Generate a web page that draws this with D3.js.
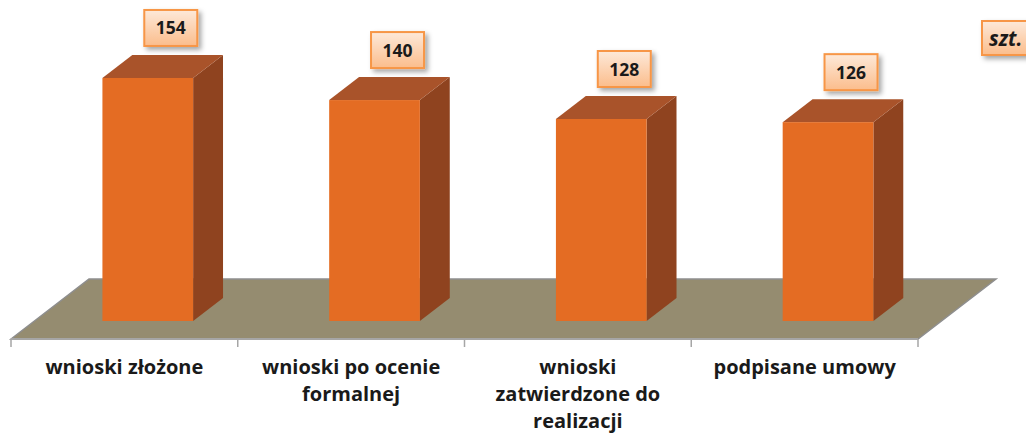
<!DOCTYPE html>
<html><head><meta charset="utf-8">
<script src="https://cdn.jsdelivr.net/npm/d3@7"></script>
<style>body{margin:0;background:#fff;}svg{display:block;font-family:"Open Sans",Lato,sans-serif;}</style>
</head><body>
<svg id="c" width="1026" height="436"></svg>
<script>
const categories = [["wnioski złożone"],["wnioski po ocenie","formalnej"],["wnioski","zatwierdzone do","realizacji"],["podpisane umowy"]];
const values = [154, 140, 128, 126];
const unitLabel = "szt.";

const svg = d3.select("#c");
const defs = svg.append("defs");
const grad = defs.append("linearGradient").attr("id","lg").attr("x1",0).attr("y1",0).attr("x2",0).attr("y2",1);
grad.append("stop").attr("offset","0%").attr("stop-color","#fde9d9");
grad.append("stop").attr("offset","100%").attr("stop-color","#fbbd8c");
const f = defs.append("filter").attr("id","sh").attr("x","-30%").attr("y","-30%").attr("width","170%").attr("height","170%");
f.append("feDropShadow").attr("dx",3).attr("dy",3).attr("stdDeviation",2.5).attr("flood-color","#000").attr("flood-opacity",0.35);

const frontY = 339, k = 1.3, floorDepth = 60;
const x = d3.scaleBand().domain(d3.range(categories.length)).range([11, 918]).padding(0);
const y = d3.scaleLinear().domain([0, 160]).range([321, 68.5]);
const z1 = 18, z2 = 41; // bar depth range (pixels up from front edge)
const bw = x.bandwidth() * 0.4;

// floor
const fx0 = 11, fx1 = 918;
svg.append("path")
  .attr("d", `M${fx0},${frontY} L${fx0+floorDepth*k},${frontY-floorDepth} L${fx1+floorDepth*k},${frontY-floorDepth} L${fx1},${frontY} Z`)
  .attr("fill","#958c70").attr("stroke","#8e8e8e").attr("stroke-width",1.5);
svg.append("line").attr("x1",fx0).attr("x2",fx1).attr("y1",frontY).attr("y2",frontY).attr("stroke","#a6a6a6").attr("stroke-width",2);
// ticks
const tickXs = x.domain().map(d=>x(d)).concat([x.range()[1]]);
svg.selectAll(".tk").data(tickXs).enter().append("line")
  .attr("x1",d=>d).attr("x2",d=>d).attr("y1",frontY).attr("y2",frontY+8)
  .attr("stroke","#a6a6a6").attr("stroke-width",1.5);

// bars
const g = svg.append("g");
values.forEach((v,i)=>{
  const xl = x(i) + (x.bandwidth()-bw)/2 + z1*k;
  const xr = xl + bw;
  const yb = y(0), yt = y(v);
  const dx = (z2-z1)*k, dy = (z2-z1);
  g.append("path").attr("d",`M${xr},${yb} L${xr+dx},${yb-dy} L${xr+dx},${yt-dy} L${xr},${yt} Z`).attr("fill","#8f431f");
  g.append("path").attr("d",`M${xl},${yt} L${xl+dx},${yt-dy} L${xr+dx},${yt-dy} L${xr},${yt} Z`).attr("fill","#a9532a");
  g.append("rect").attr("x",xl).attr("y",yt).attr("width",bw).attr("height",yb-yt).attr("fill","#e46c23");
  const cx = (xl+xr)/2 + 23, bh = 36, bwl = 53;
  const by = yt - dy - 9 - bh;
  g.append("rect").attr("x",cx-bwl/2).attr("y",by).attr("width",bwl).attr("height",bh)
    .attr("fill","url(#lg)").attr("stroke","#f79646").attr("stroke-width",2).attr("filter","url(#sh)");
  g.append("text").attr("x",cx).attr("y",by+bh/2+6.5).attr("text-anchor","middle")
    .attr("font-size",17.5).attr("font-weight","bold").attr("fill","#1a1a1a").text(v);
});

// category labels
categories.forEach((lines,i)=>{
  const t = svg.append("text").attr("text-anchor","middle").attr("font-size",20).attr("font-weight","bold").attr("fill","#1a1a1a");
  lines.forEach((s,j)=>{
    t.append("tspan").attr("x", x(i)+x.bandwidth()/2).attr("y", 374 + j*27).text(s);
  });
});

// unit box
svg.append("rect").attr("x",982).attr("y",21).attr("width",60).attr("height",34)
  .attr("fill","url(#lg)").attr("stroke","#f79646").attr("stroke-width",2).attr("filter","url(#sh)");
svg.append("text").attr("x",989).attr("y",46).attr("font-size",20.5).attr("font-weight","bold").attr("font-style","italic").attr("fill","#1a1a1a").text(unitLabel);
</script>
</body></html>
